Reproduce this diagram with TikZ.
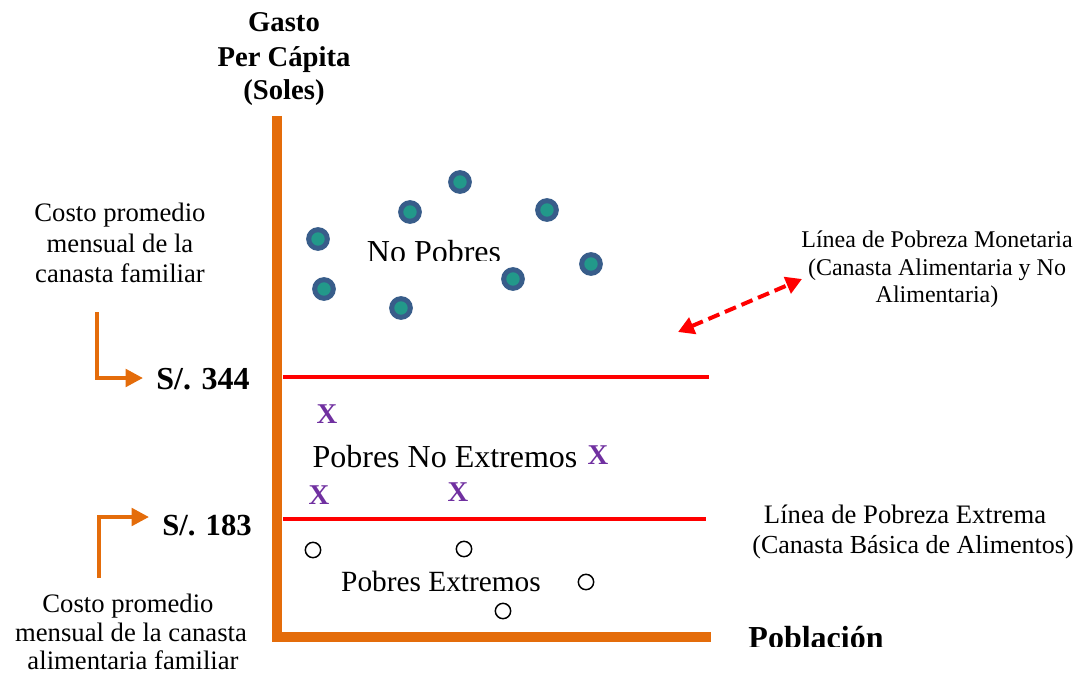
\documentclass[tikz,border=0pt]{standalone}
\usepackage{fontspec}
\setmainfont{Liberation Serif}
\usetikzlibrary{arrows.meta}
\definecolor{axisorange}{HTML}{E46C0A}
\definecolor{dotblue}{HTML}{385D8A}
\definecolor{dotteal}{HTML}{22998A}
\definecolor{xpurple}{HTML}{7030A0}
\definecolor{linered}{HTML}{FF0000}
\tikzset{
  axisline/.style={draw=axisorange, line width=7.5pt, line join=miter},
  povline/.style={draw=linered, line width=3.5pt},
  dot/.style={circle, fill=dotteal, draw=dotblue, line width=3.75pt, minimum size=14pt, inner sep=0pt},
  ring/.style={circle, draw=black, line width=1.1pt, minimum size=11.5pt, inner sep=0pt},
  xmark/.style={anchor=base, inner sep=0pt, text=xpurple, font=\bfseries\fontsize{21.5}{21.5}\selectfont},
  bigtxt/.style={anchor=base, inner sep=0pt, font=\fontsize{24}{24}\selectfont},
  midtxt/.style={anchor=base, inner sep=0pt, font=\fontsize{22}{22}\selectfont},
  lbl/.style={anchor=base, inner sep=0pt, font=\fontsize{20}{20}\selectfont},
  lblsmall/.style={anchor=base, inner sep=0pt, font=\fontsize{18}{18}\selectfont},
  boldval/.style={anchor=base, inner sep=0pt, font=\bfseries\fontsize{24}{24}\selectfont},
  head/.style={anchor=base, inner sep=0pt, font=\bfseries\fontsize{21.5}{21.5}\selectfont},
  bentarrow/.style={draw=axisorange, line width=3pt, -{Triangle[length=13pt,width=13pt]}},
  dblarrow/.style={draw=linered, line width=3pt, dash pattern=on 9pt off 4.5pt,
     {Triangle[length=12pt,width=13pt]}-{Triangle[length=12pt,width=13pt]}}
}
\begin{document}
\begin{tikzpicture}[x=0.75pt, y=-0.75pt]
\useasboundingbox (0,0) rectangle (1087,677);

% axes
\coordinate (ytop) at (277,116);
\coordinate (origin) at (277,637);
\coordinate (xend) at (711,637);
\draw[axisline] (ytop) -- (origin) -- (xend);

% poverty lines
\coordinate (l1a) at (283,377);
\coordinate (l1b) at (709,377);
\coordinate (l2a) at (283,519);
\coordinate (l2b) at (706,519);
\draw[povline] (l1a) -- (l1b);
\draw[povline] (l2a) -- (l2b);

% header
\node[head] (h1) at (284,32) {Gasto};
\node[head] (h2) at (284,67) {Per Cápita};
\node[head] (h3) at (284,100) {(Soles)};

% Población
\begin{scope}
\clip (700,600) rectangle (1000,646);
\node[boldval] (pob) at (816,648) {Población};
\end{scope}

% No pobres
\node[dot] (d1) at (460,182) {};
\node[dot] (d2) at (410,212) {};
\node[dot] (d3) at (547,210) {};
\node[dot] (d4) at (318,239) {};
\node[dot] (d5) at (324,289) {};
\node[dot] (d6) at (401,308) {};
\node[dot] (d7) at (513,279) {};
\node[dot] (d8) at (591,264) {};
\begin{scope}
\clip (350,200) rectangle (520,260);
\node[bigtxt] (np) at (434,262) {No Pobres};
\end{scope}

% Pobres no extremos
\node[bigtxt] (pne) at (445,467) {Pobres No Extremos};
\node[xmark] (x1) at (327,423) {X};
\node[xmark] (x2) at (598,464) {X};
\node[xmark] (x3) at (319,504) {X};
\node[xmark] (x4) at (458,501) {X};

% Pobres extremos
\node[midtxt] (pe) at (441,591) {Pobres Extremos};
\node[ring] (r1) at (313,550) {};
\node[ring] (r2) at (464,549) {};
\node[ring] (r3) at (586,582) {};
\node[ring] (r4) at (503,611) {};

% values
\node[boldval] (v344) at (203,389) {S/. 344};
\node[boldval, font=\bfseries\fontsize{23}{23}\selectfont] (v183) at (207,535) {S/. 183};

% left labels
\node[lbl] (c1a) at (120,222) {Costo promedio};
\node[lbl] (c1b) at (120,252) {mensual de la};
\node[lbl] (c1c) at (120,282) {canasta familiar};

\node[lbl] (c2a) at (128,612) {Costo promedio};
\node[lbl] (c2b) at (131,641) {mensual de la canasta};
\node[lbl] (c2c) at (133,669) {alimentaria familiar};

% bent arrows
\coordinate (b1s) at (97,312);
\coordinate (b1c) at (97,378);
\coordinate (b1e) at (143,378);
\draw[bentarrow] (b1s) -- (b1c) -- (b1e);
\coordinate (b2s) at (99,578);
\coordinate (b2c) at (99,517);
\coordinate (b2e) at (149,517);
\draw[bentarrow] (b2s) -- (b2c) -- (b2e);

% right labels
\node[lblsmall] (m1) at (937,247) {Línea de Pobreza Monetaria};
\node[lblsmall] (m2) at (937,275) {(Canasta Alimentaria y No};
\node[lblsmall] (m3) at (937,302) {Alimentaria)};
\coordinate (da) at (678,332);
\coordinate (db) at (802,279);
\draw[dblarrow] (da) -- (db);

\node[lbl] (e1) at (905,523) {Línea de Pobreza Extrema};
\node[lbl, font=\fontsize{19.5}{19.5}\selectfont] (e2) at (913,553) {(Canasta Básica de Alimentos)};
\end{tikzpicture}
\end{document}
